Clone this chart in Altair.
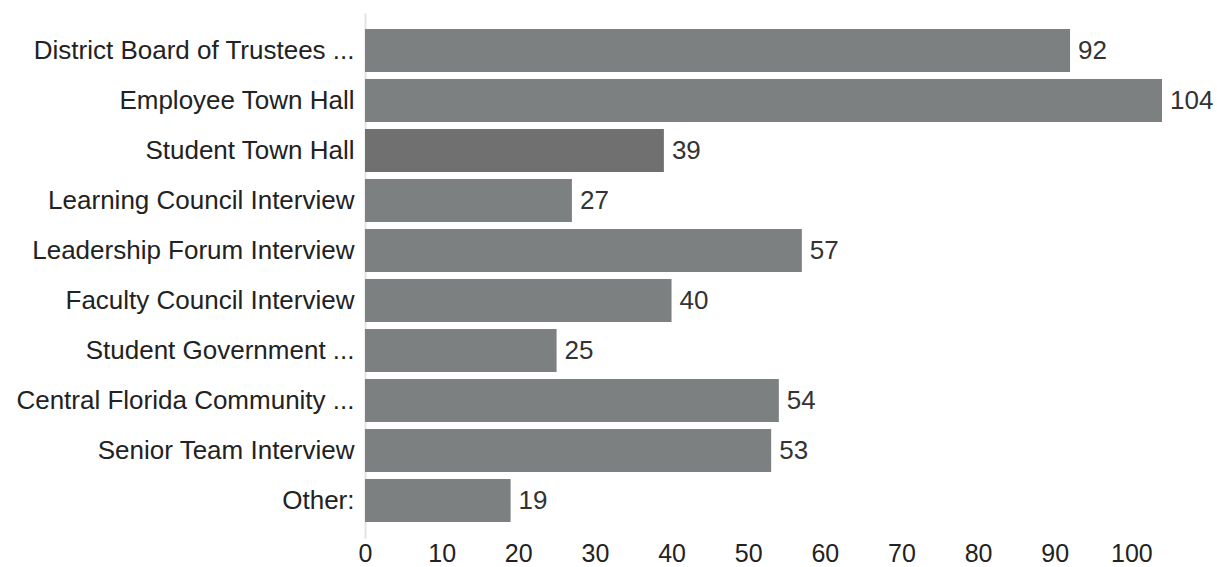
import altair as alt
import pandas as pd

categories = [
    "District Board of Trustees ...",
    "Employee Town Hall",
    "Student Town Hall",
    "Learning Council Interview",
    "Leadership Forum Interview",
    "Faculty Council Interview",
    "Student Government ...",
    "Central Florida Community ...",
    "Senior Team Interview",
    "Other:",
]
values = [92, 104, 39, 27, 57, 40, 25, 54, 53, 19]
highlight = [False, False, True, False, False, False, False, False, False, False]

df = pd.DataFrame({"cat": categories, "val": values, "hl": highlight})

FONT = "Liberation Sans"
FS = 26

y = alt.Y(
    "cat:N",
    sort=categories,
    title=None,
    scale=alt.Scale(paddingInner=0.14, paddingOuter=0.32),
    axis=alt.Axis(
        labelFont=FONT, labelFontSize=FS, labelColor="#222222",
        ticks=False, labelPadding=11, domainColor="#e3e3e3", domainWidth=2,
        labelLimit=400, grid=False,
    ),
)
x = alt.X(
    "val:Q",
    title=None,
    scale=alt.Scale(domain=[0, 110], nice=False),
    axis=alt.Axis(
        values=list(range(0, 101, 10)), grid=False, domain=False, ticks=False,
        labelFont=FONT, labelFontSize=25, labelColor="#222222", labelPadding=3,
        labelFlush=False,
    ),
)

base = alt.Chart(df).encode(x=x, y=y)

bars = base.mark_bar().encode(
    color=alt.Color(
        "hl:N",
        scale=alt.Scale(domain=[False, True], range=["#7c8081", "#707070"]),
        legend=None,
    ),
)

text = base.mark_text(
    align="left", baseline="middle", dx=8, font=FONT, fontSize=FS, color="#333333"
).encode(text="val:Q")

chart = (
    (bars + text)
    .properties(
        width=843,
        height=525,
        background="white",
        autosize=alt.AutoSizeParams(type="none"),
        padding={"left": 365, "top": 13, "right": 9, "bottom": 29},
    )
    .configure_view(strokeWidth=0, stroke="transparent")
)

chart.save("out.html", embed_options={"renderer": "svg", "actions": False})
